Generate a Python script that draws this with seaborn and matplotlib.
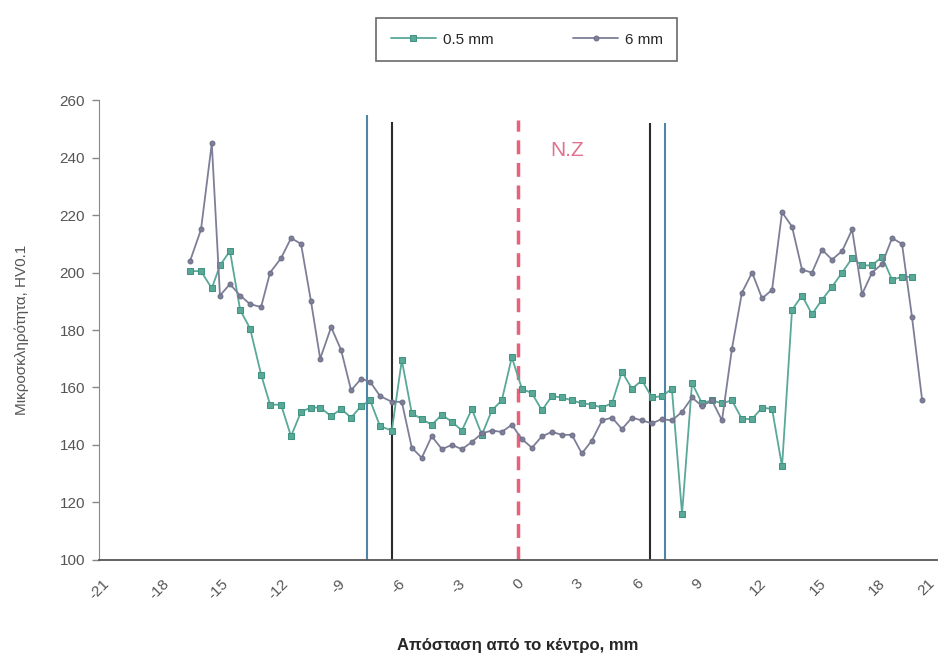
import pandas as pd
import seaborn as sns
import matplotlib.pyplot as plt
from matplotlib.transforms import ScaledTranslation

sns.set_style("white")
plt.rcParams["font.family"] = ["Liberation Sans", "DejaVu Sans"]
plt.rcParams["axes.unicode_minus"] = False

# Distance from centre (mm)
distance = [-16.44, -15.89, -15.35, -14.94, -14.44, -13.93, -13.43, -12.88, -12.43, -11.88,
            -11.38, -10.88, -10.38, -9.92, -9.37, -8.87, -8.37, -7.87, -7.42, -6.92,
            -6.33, -5.83, -5.33, -4.83, -4.33, -3.82, -3.32, -2.82, -2.32, -1.82,
            -1.32, -0.82, -0.32, 0.19, 0.69, 1.19, 1.69, 2.19, 2.69, 3.19,
            3.69, 4.20, 4.70, 5.20, 5.70, 6.20, 6.70, 7.20, 7.70, 8.21,
            8.71, 9.21, 9.71, 10.21, 10.71, 11.21, 11.72, 12.22, 12.72, 13.22,
            13.72, 14.22, 14.72, 15.22, 15.72, 16.23, 16.73, 17.23, 17.73, 18.23,
            18.73, 19.23, 19.73, 20.24]

# 6 mm series
hv_6mm = [204, 215, 245, 192, 196, 192, 189, 188, 200, 205,
          212, 210, 190, 170, 181, 173, 159, 163, 162, 157,
          155, 155, 139, 135.5, 143, 138.5, 140, 138.5, 141, 144,
          145, 144.5, 147, 142, 139, 143, 144.5, 143.5, 143.5, 137,
          141.5, 148.5, 149.5, 145.5, 149.5, 148.5, 147.5, 149, 148.5, 151.5,
          156.5, 153.5, 155.5, 148.5, 173.5, 193, 200, 191, 194, 221,
          216, 201, 200, 208, 204.5, 207.5, 215, 192.5, 200, 203,
          212, 210, 184.5, 155.5]

# 0.5 mm series (one point shorter at the right end)
hv_05mm = [200.5, 200.5, 194.5, 202.5, 207.5, 187, 180.5, 164.5, 154, 154,
           143, 151.5, 153, 153, 150, 152.5, 149.5, 153.5, 155.5, 146.5,
           145, 169.5, 151, 149, 147, 150.5, 148, 145, 152.5, 143.5,
           152, 155.5, 170.5, 159.5, 158, 152, 157, 156.5, 155.5, 154.5,
           154, 153, 154.5, 165.5, 159.5, 162.5, 156.5, 157, 159.5, 116,
           161.5, 154.5, 155.5, 154.5, 155.5, 149, 149, 153, 152.5, 132.5,
           187, 192, 185.5, 190.5, 195, 200, 205, 202.5, 202.5, 205.5,
           197.5, 198.5, 198.5]

# zone boundaries
boundary_x = [-7.59, -6.33, 6.62, 7.37]
boundary_top = [254.8, 252.5, 252, 252]
boundary_colors = ["#4f86a8", "#2b2b2b", "#2b2b2b", "#4f86a8"]

x_ticks = list(range(-21, 22, 3))
y_ticks = list(range(100, 261, 20))

df_6 = pd.DataFrame({"x": distance, "hv": hv_6mm})
df_05 = pd.DataFrame({"x": distance[:len(hv_05mm)], "hv": hv_05mm})

fig = plt.figure(figsize=(9.43, 6.64), dpi=100)
ax = fig.add_axes([0.105, 0.157, 0.889, 0.692])

sns.lineplot(data=df_05, x="x", y="hv", ax=ax, color="#5aa898", marker="s",
             markersize=4.5, markeredgecolor="#3f9482", linewidth=1.3, label="0.5 mm",
             sort=False, zorder=3)
sns.lineplot(data=df_6, x="x", y="hv", ax=ax, color="#7d7f98", marker="o",
             markersize=3.5, markeredgecolor="#6d6f88", linewidth=1.3, label="6 mm",
             sort=False, zorder=4)

for bx, top, c in zip(boundary_x, boundary_top, boundary_colors):
    ax.vlines(bx, 100, top, color=c, linewidth=1.5, zorder=2)
ax.vlines(0, 100, 253, color="#e8607a", linewidth=2.5, linestyles=(0, (4, 2.5)), zorder=2)
ax.text(2.45, 242.5, "N.Z", color="#e0708c", fontsize=15, ha="center", va="center")

ax.set_xlim(-21, 21)
ax.set_ylim(100, 260)
ax.set_xticks(x_ticks)
ax.set_xticklabels([str(t) for t in x_ticks], rotation=45, ha="center", va="top")
ax.set_yticks(y_ticks)
ax.tick_params(axis="x", length=0, pad=12, labelsize=11, labelcolor="#555555")
ax.tick_params(axis="y", length=5, width=1, color="#888888", labelsize=11,
               labelcolor="#555555", left=True, pad=5)

# keep the last tick label inside the figure
last = ax.get_xticklabels()[-1]
last.set_transform(last.get_transform() + ScaledTranslation(-8 / 72, 0, fig.dpi_scale_trans))

for side in ["top", "right"]:
    ax.spines[side].set_visible(False)
ax.spines["left"].set_color("#888888")
ax.spines["bottom"].set_color("#555555")
ax.spines["bottom"].set_linewidth(1.3)

ax.set_xlabel("Απόσταση από το κέντρο, mm", fontsize=12, fontweight="bold", labelpad=26)
ax.set_ylabel("Μικροσκληρότητα, HV0.1", fontsize=11, color="#555555", labelpad=22)

leg = ax.legend(loc="center", bbox_to_anchor=(0.51, 1.132), ncol=2, frameon=True,
                fancybox=False, edgecolor="#444444", fontsize=11, handlelength=3,
                handletextpad=0.4, columnspacing=5.2, borderpad=0.95)
leg.get_frame().set_linewidth(1.2)

fig.savefig("out.png", dpi=100)
